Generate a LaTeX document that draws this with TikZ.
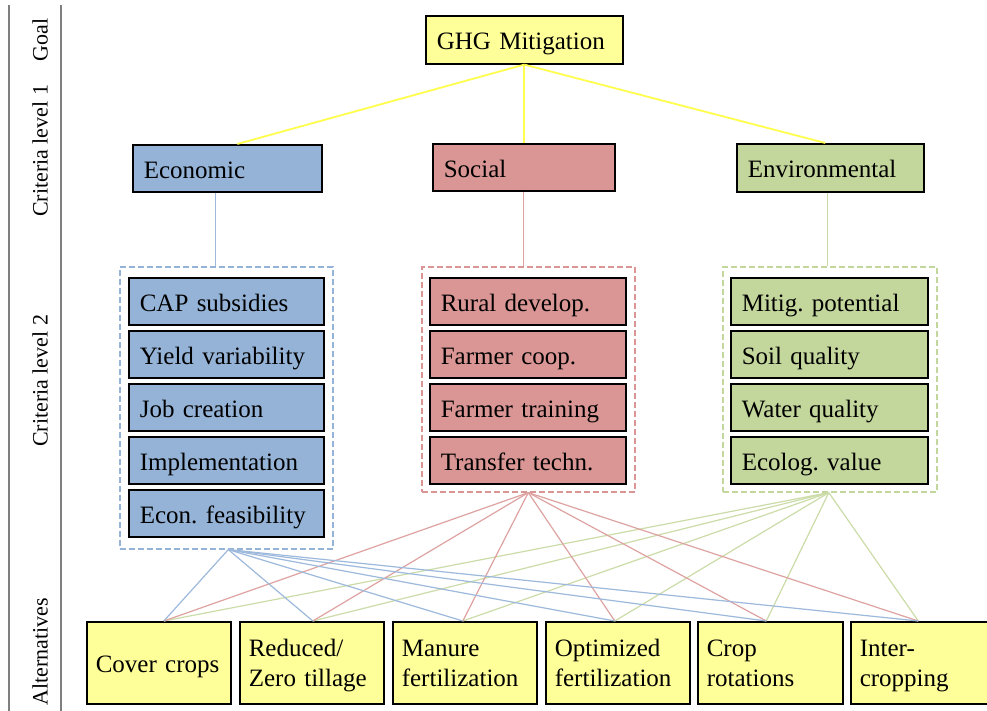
\documentclass[tikz,border=0pt]{standalone}
\usepackage{fontspec}
\setmainfont{Liberation Serif}
\frenchspacing
\definecolor{yfill}{HTML}{FFFF99}
\definecolor{bfill}{HTML}{95B3D7}
\definecolor{rfill}{HTML}{D99694}
\definecolor{gfill}{HTML}{C3D69B}
\definecolor{yline}{HTML}{FFFF4D}
\definecolor{bline}{HTML}{9DB9DC}
\definecolor{rline}{HTML}{DEA3A1}
\definecolor{gline}{HTML}{CCDCA8}
\definecolor{sidegray}{HTML}{7F7F7F}
\tikzset{
  box/.style={draw=black, line width=1.6pt, inner xsep=11pt, inner ysep=0pt, align=left,
    anchor=north west, font=\fontsize{25}{30}\selectfont, text height=24pt, text depth=4pt},
  ybox/.style={box, fill=yfill},
  bbox/.style={box, fill=bfill},
  rbox/.style={box, fill=rfill},
  gbox/.style={box, fill=gfill},
  altbox/.style={ybox, inner xsep=9pt, minimum width=#1pt, minimum height=82pt},
  twoline/.style={text height=22pt, text depth=34pt},
  grp/.style={draw=#1, dashed, dash pattern=on 6pt off 3pt, line width=1.6pt, anchor=north west, inner sep=0pt, text height=0pt, text depth=0pt},
  sidelabel/.style={rotate=90, font=\fontsize{22}{24}\selectfont, inner sep=0pt},
  sideline/.style={draw=sidegray, line width=2pt},
  fan/.style={draw=#1, line width=1.2pt},
  stem/.style={draw=#1, line width=1.1pt},
  top/.style={draw=yline, line width=1.8pt},
}
\begin{document}
\begin{tikzpicture}[x=1pt, y=-1pt]
\useasboundingbox (0,0) rectangle (987,711);
\clip (0,0) rectangle (987,711);
\fill[white] (0,0) rectangle (987,711);

% side column
\coordinate (s1t) at (9,5);  \coordinate (s1b) at (9,711);
\coordinate (s2t) at (61,5); \coordinate (s2b) at (61,711);
\draw[sideline] (s1t) -- (s1b);
\draw[sideline] (s2t) -- (s2b);
\node[sidelabel] (lgoal) at (40,40) {Goal};
\node[sidelabel] (lcr1) at (40,151) {Criteria level 1};
\node[sidelabel] (lcr2) at (40,381) {Criteria level 2};
\node[sidelabel] (lalt) at (40,652) {Alternatives};

% goal
\node[ybox, minimum width=197pt, text width=175pt, minimum height=48pt] (goal) at (425,15) {GHG Mitigation};

% level 1
\node[bbox, minimum width=189pt, text width=167pt, minimum height=47pt] (eco) at (132,144) {Economic};
\node[rbox, minimum width=182pt, text width=160pt, minimum height=47pt] (soc) at (432,143) {Social};
\node[gbox, minimum width=187pt, text width=165pt, minimum height=48pt] (env) at (736,143) {Environmental};

% groups
\node[grp=bfill, minimum width=213pt, minimum height=282pt] (ecoG) at (119,266) {};
\node[grp=rfill, minimum width=213pt, minimum height=225pt] (socG) at (421,266) {};
\node[grp=gfill, minimum width=214pt, minimum height=225pt] (envG) at (722,266) {};

% level 2 economic
\node[bbox, minimum width=195pt, text width=173pt, minimum height=47pt] (e1) at (128,277) {CAP subsidies};
\node[bbox, minimum width=195pt, text width=173pt, minimum height=47pt] (e2) at (128,330) {Yield variability};
\node[bbox, minimum width=195pt, text width=173pt, minimum height=47pt] (e3) at (128,383) {Job creation};
\node[bbox, minimum width=195pt, text width=173pt, minimum height=47pt] (e4) at (128,436) {Implementation};
\node[bbox, minimum width=195pt, text width=173pt, minimum height=47pt] (e5) at (128,489) {Econ. feasibility};
% level 2 social
\node[rbox, minimum width=196pt, text width=174pt, minimum height=47pt] (s1) at (429,277) {Rural develop.};
\node[rbox, minimum width=196pt, text width=174pt, minimum height=47pt] (s2) at (429,330) {Farmer coop.};
\node[rbox, minimum width=196pt, text width=174pt, minimum height=47pt] (s3) at (429,383) {Farmer training};
\node[rbox, minimum width=196pt, text width=174pt, minimum height=47pt] (s4) at (429,436) {Transfer techn.};
% level 2 environmental
\node[gbox, minimum width=197pt, text width=175pt, minimum height=47pt] (g1) at (730,277) {Mitig. potential};
\node[gbox, minimum width=197pt, text width=175pt, minimum height=47pt] (g2) at (730,330) {Soil quality};
\node[gbox, minimum width=197pt, text width=175pt, minimum height=47pt] (g3) at (730,383) {Water quality};
\node[gbox, minimum width=197pt, text width=175pt, minimum height=47pt] (g4) at (730,436) {Ecolog. value};

% alternatives
\node[altbox=144, text width=126pt] (a1) at (86,621) {Cover crops};
\node[altbox=144, text width=126pt, twoline] (a2) at (239,621) {Reduced/\\Zero tillage};
\node[altbox=144, text width=126pt, twoline] (a3) at (392,621) {Manure\\fertilization};
\node[altbox=144, text width=126pt, twoline] (a4) at (545,621) {Optimized\\fertilization};
\node[altbox=145, text width=127pt, twoline] (a5) at (697,621) {Crop\\rotations};
\node[altbox=145, text width=127pt, twoline] (a6) at (850,621) {Inter-\\cropping};

% connector anchor points
\coordinate (ecoOut) at ([xshift=2pt]ecoG.south);
\coordinate (socOut) at (socG.south);
\coordinate (envOut) at ([xshift=-1pt]envG.south);
\coordinate (t1) at ([xshift=5pt]a1.north);
\coordinate (t2) at ([xshift=1pt]a2.north);
\coordinate (t3) at ([xshift=-2pt]a3.north);
\coordinate (t4) at ([xshift=-3pt]a4.north);
\coordinate (t5) at ([xshift=-4pt]a5.north);
\coordinate (t6) at ([xshift=-5pt]a6.north);

\foreach \t in {t1,t2,t3,t4,t5,t6} {
  \draw[fan=gline] (envOut) -- (\t);
  \draw[fan=rline] (socOut) -- (\t);
  \draw[fan=bline] (ecoOut) -- (\t);
}

% goal to level 1
\draw[top] (goal.south) -- ([xshift=10pt]eco.north);
\draw[top] (goal.south) -- (goal.south |- soc.north);
\draw[top] (goal.south) -- ([xshift=-5pt]env.north);

% level 1 to groups
\draw[stem=bline] ([xshift=-12pt]eco.south) -- ([xshift=-12pt]eco.south |- ecoG.north);
\draw[stem=rline] (soc.south) -- (soc.south |- socG.north);
\draw[stem=gline] ([xshift=-3pt]env.south) -- ([xshift=-3pt]env.south |- envG.north);
\end{tikzpicture}
\end{document}
